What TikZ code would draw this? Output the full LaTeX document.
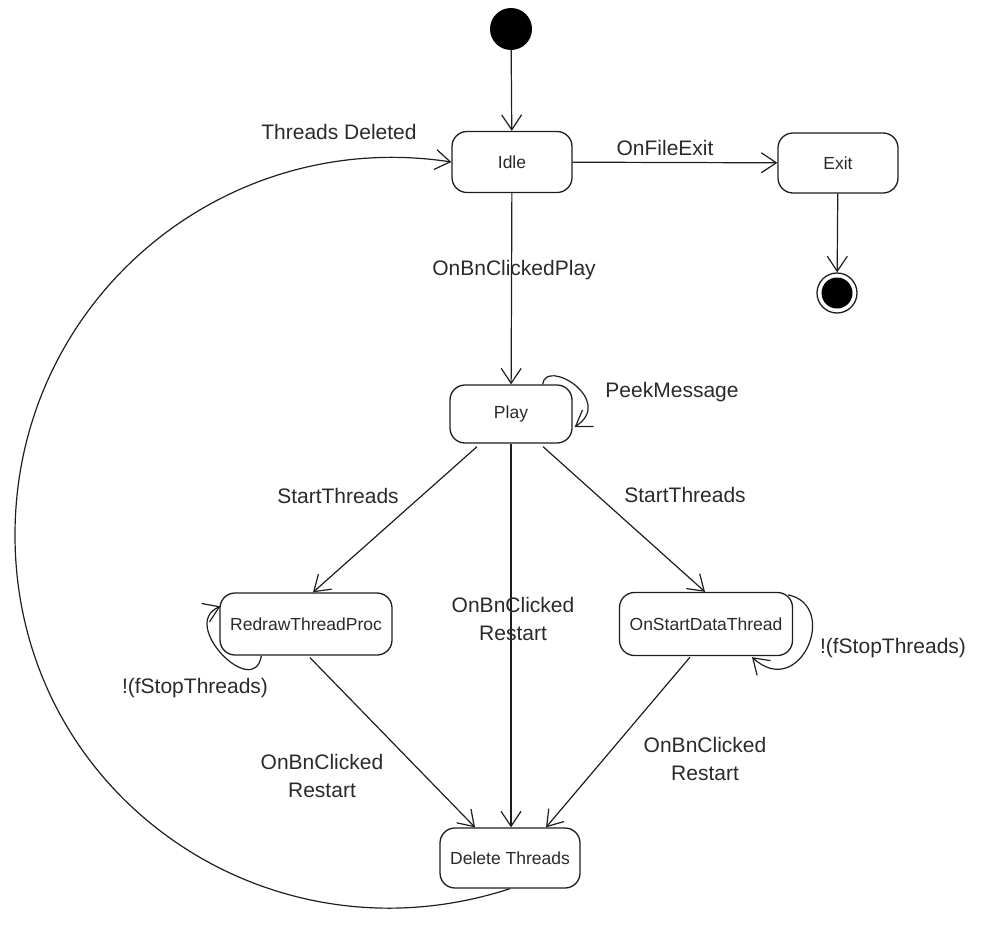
\documentclass[tikz,border=0pt]{standalone}
\usepackage{fontspec}
\setmainfont{Liberation Sans}
\usetikzlibrary{arrows.meta,calc}

\definecolor{ink}{HTML}{1E1E1E}
\definecolor{txt}{HTML}{2A2A2A}

\tikzset{
  state/.style={draw=ink, line width=1.3pt, rounded corners=15pt, fill=white,
    inner sep=0pt, text=txt, font=\fontsize{17.5}{20}\selectfont},
  lbl/.style={text=txt, inner sep=0pt, align=center,
    font=\fontsize{21}{28}\selectfont},
  trans/.style={draw=ink, line width=1.2pt,
    -{Straight Barb[length=15pt,width=20pt,line width=1.2pt]}},
}

\begin{document}
\begin{tikzpicture}[x=1pt,y=-1pt]
  \useasboundingbox (0,0) rectangle (992,926);

  % pseudo states
  \node[circle, fill=black, minimum size=42pt, inner sep=0pt] (init) at (511,29) {};
  \node[circle, draw=ink, line width=1.3pt, minimum size=40pt, inner sep=0pt] (fin) at (837,293) {};
  \fill[black] (fin.center) circle (15.5pt);

  % states
  \node[state, minimum width=120pt, minimum height=61pt] (idle) at (512,162) {Idle};
  \node[state, minimum width=120pt, minimum height=60pt] (exit) at (838,163) {Exit};
  \node[state, minimum width=122pt, minimum height=58pt] (play) at (511,414) {Play};
  \node[state, minimum width=172pt, minimum height=62pt] (redraw) at (306,624) {RedrawThreadProc};
  \node[state, minimum width=173pt, minimum height=63pt] (onstart) at (706,624) {OnStartDataThread};
  \node[state, minimum width=140pt, minimum height=60pt] (del) at (510,858) {Delete Threads};

  % transitions
  \draw[trans] (init) -- (idle);
  \draw[trans] (idle) -- (exit);
  \draw[trans] (exit) -- (fin);
  \draw[trans] (idle) -- (play);
  \draw[trans] ($(play.north east)+(-30,0)$)
      .. controls +(3,-27) and +(41,-27) .. ($(play.east)+(2,13)$);
  \draw[trans] ($(play.south)+(-34,3)$) -- ($(redraw.north)+(7,0)$);
  \draw[trans] ($(play.south)+(32,3)$) -- ($(onstart.north)+(-1,0)$);
  \draw[trans] (play.south) -- (play.south |- del.north);
  \draw[trans] ($(redraw.south west)+(42,0)$)
      .. controls +(-7,45) and +(-42,18) .. ($(redraw.north west)+(1,14)$);
  \draw[trans] ($(onstart.north east)+(-5,3)$)
      .. controls +(52,11) and +(48,44) .. ($(onstart.south)+(46,1)$);
  \draw[trans] ($(redraw.south)+(4,2)$) -- ($(del.north)+(-35,0)$);
  \draw[trans] ($(onstart.south)+(-16,1)$) -- ($(del.north)+(36,0)$);

  % return path from Delete Threads back to Idle
  \coordinate (arcL) at (15,535);
  \draw[trans] (del.south) .. controls +(-245,80) and +(0,258) .. (arcL)
      .. controls +(0,-233) and +(-230,-35) .. (idle.west);

  % transition labels
  \node[lbl] (lDel) at (339,132) {Threads Deleted};
  \node[lbl] (lExit) at (665,148) {OnFileExit};
  \node[lbl] (lPlay) at (514,270) {OnBnClickedPlay};
  \node[lbl] (lPeek) at (672,392) {PeekMessage};
  \node[lbl] (lStartL) at (338,496) {StartThreads};
  \node[lbl] (lStartR) at (685,495) {StartThreads};
  \node[lbl] (lRestC) at (513,619) {OnBnClicked\\Restart};
  \node[lbl] (lStopL) at (195,688) {!(fStopThreads)};
  \node[lbl] (lStopR) at (893,648) {!(fStopThreads)};
  \node[lbl] (lRestL) at (322,776) {OnBnClicked\\Restart};
  \node[lbl] (lRestR) at (705,759) {OnBnClicked\\Restart};
\end{tikzpicture}
\end{document}
